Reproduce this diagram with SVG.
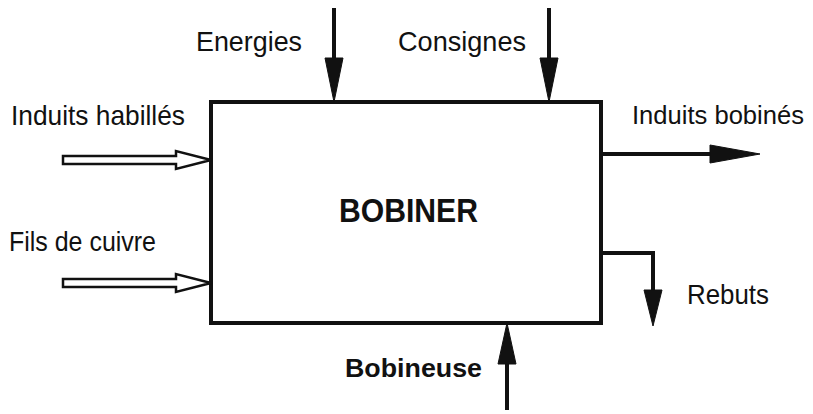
<svg xmlns="http://www.w3.org/2000/svg" width="813" height="414" viewBox="0 0 813 414">
<style>
.t{font-family:"Liberation Sans",Arial,sans-serif;font-size:28px;fill:#111}
.b{font-weight:bold}
.big{font-size:34px}
.mid{font-size:26px}
.ln{stroke:#111;stroke-width:4;fill:none}
.hd{fill:#111;stroke:#111;stroke-width:1}
.hol{fill:#fff;stroke:#111;stroke-width:2.5;stroke-linejoin:miter}
</style>
<rect width="813" height="414" fill="#fff"/>
<g id="node-bobiner">
<rect x="211" y="102" width="390" height="221" class="ln"/>
<text x="339" y="222" class="t b big" textLength="139" lengthAdjust="spacingAndGlyphs">BOBINER</text>
</g>
<g id="labels">
<text x="196" y="51" class="t" textLength="106" lengthAdjust="spacingAndGlyphs">Energies</text>
<text x="398" y="51" class="t" textLength="128" lengthAdjust="spacingAndGlyphs">Consignes</text>
<text x="11" y="125" class="t" textLength="174" lengthAdjust="spacingAndGlyphs">Induits habillés</text>
<text x="9" y="251" class="t" textLength="147" lengthAdjust="spacingAndGlyphs">Fils de cuivre</text>
<text x="632" y="124" class="t mid" textLength="172" lengthAdjust="spacingAndGlyphs">Induits bobinés</text>
<text x="687" y="304" class="t" textLength="82" lengthAdjust="spacingAndGlyphs">Rebuts</text>
<text x="345" y="377" class="t b mid" textLength="137" lengthAdjust="spacingAndGlyphs">Bobineuse</text>
</g>
<g id="connectors">
<line x1="334" y1="8" x2="334" y2="60" class="ln"/>
<polygon points="325,58 343,58 334,102" class="hd"/>
<line x1="549" y1="8" x2="549" y2="60" class="ln"/>
<polygon points="540,58 558,58 549,102" class="hd"/>
<line x1="507" y1="410" x2="507" y2="362" class="ln"/>
<polygon points="498,364 516,364 507,323" class="hd"/>
<line x1="601" y1="154" x2="712" y2="154" class="ln"/>
<polygon points="710,145 710,163 760,154" class="hd"/>
<polyline points="601,253 653,253 653,292" class="ln"/>
<polygon points="644,290 662,290 653,326" class="hd"/>
<polygon points="63,156 176,156 176,151 211,160 176,169 176,164 63,164" class="hol"/>
<polygon points="63,279 176,279 176,274 211,283 176,292 176,287 63,287" class="hol"/>
</g>
</svg>
